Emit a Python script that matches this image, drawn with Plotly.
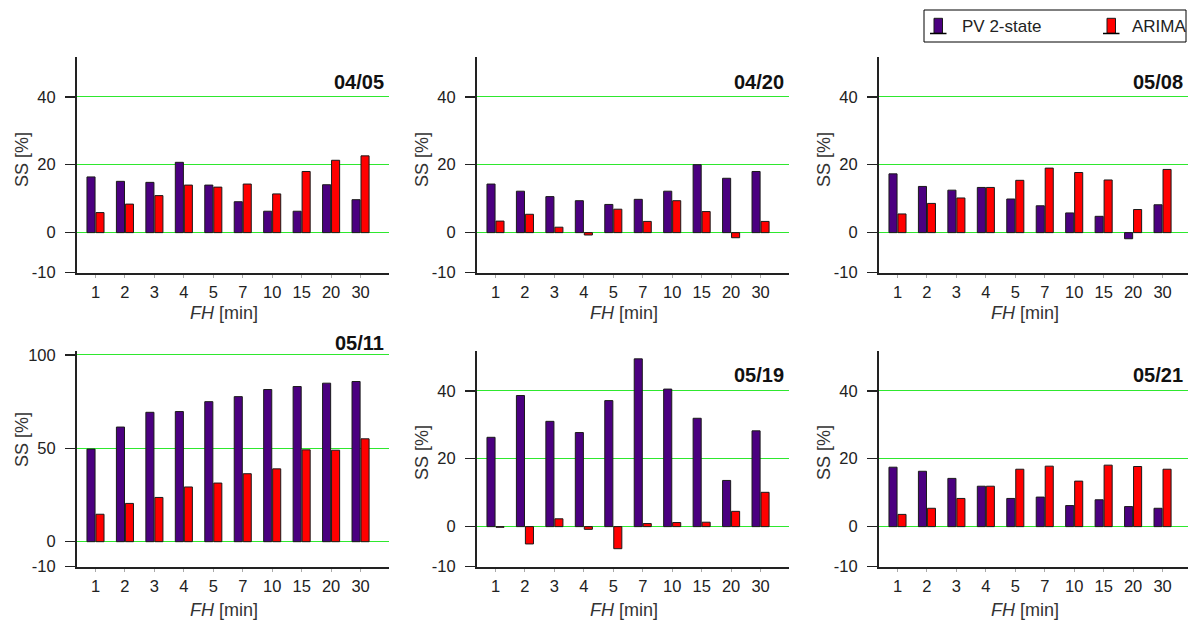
import plotly.graph_objects as go

FH = ["1", "2", "3", "4", "5", "7", "10", "15", "20", "30"]
DAYS = ["04/05", "04/20", "05/08", "05/11", "05/19", "05/21"]
SERIES = ["PV 2-state", "ARIMA"]

PV_0405 = [16.4, 15.1, 14.8, 20.7, 14.0, 9.1, 6.3, 6.3, 14.1, 9.7]
AR_0405 = [5.9, 8.4, 10.9, 14.0, 13.4, 14.3, 11.4, 18.0, 21.3, 22.6]
PV_0420 = [14.3, 12.2, 10.6, 9.4, 8.3, 9.8, 12.2, 20.0, 16.0, 18.0]
AR_0420 = [3.4, 5.4, 1.6, -0.7, 6.9, 3.3, 9.4, 6.2, -1.5, 3.3]
PV_0508 = [17.3, 13.6, 12.5, 13.3, 9.9, 7.9, 5.8, 4.8, -1.8, 8.2]
AR_0508 = [5.5, 8.6, 10.2, 13.3, 15.4, 19.0, 17.7, 15.5, 6.8, 18.6]
PV_0511 = [49.6, 61.4, 69.3, 69.7, 75.0, 77.7, 81.5, 83.1, 84.9, 85.8]
AR_0511 = [14.7, 20.5, 23.7, 29.3, 31.4, 36.4, 39.0, 49.2, 49.0, 55.1]
PV_0519 = [26.3, 38.6, 31.0, 27.7, 37.1, 49.4, 40.5, 31.9, 13.6, 28.2]
AR_0519 = [-0.2, -5.1, 2.3, -0.8, -6.5, 0.9, 1.2, 1.3, 4.5, 10.1]
PV_0521 = [17.5, 16.3, 14.2, 11.9, 8.3, 8.7, 6.2, 7.9, 5.9, 5.4]
AR_0521 = [3.6, 5.4, 8.3, 11.9, 16.9, 17.8, 13.4, 18.1, 17.7, 16.9]

PV = [PV_0405, PV_0420, PV_0508, PV_0511, PV_0519, PV_0521]
AR = [AR_0405, AR_0420, AR_0508, AR_0511, AR_0519, AR_0521]

W, H = 1188, 621
PURPLE = "#4b0080"
RED = "#ff0000"
GREEN = "#2ee82e"
AXC = "#222222"
EDGE = "#1a1a1a"
FONT = "Liberation Sans, Arial, sans-serif"

# panel pixel boxes: (left, right) and (top, bottom)
cols = [(77, 389), (477, 789), (879, 1188)]
rows = [(56.7, 272.7), (350.7, 566.7)]
SPACING = 29.45
LEFT_OFF = 18.5

fig = go.Figure()
for i, day in enumerate(DAYS):
    r, c = divmod(i, 3)
    L, R = cols[c]
    T, B = rows[r]
    n = i + 1
    xa = "x" if n == 1 else f"x{n}"
    ya = "y" if n == 1 else f"y{n}"
    fig.add_trace(go.Bar(x=FH, y=PV[i], name=SERIES[0], marker=dict(color=PURPLE, line=dict(color=EDGE, width=1)),
                         xaxis=xa, yaxis=ya, showlegend=False))
    fig.add_trace(go.Bar(x=FH, y=AR[i], name=SERIES[1], marker=dict(color=RED, line=dict(color=EDGE, width=1)),
                         xaxis=xa, yaxis=ya, showlegend=False))
    xl = -LEFT_OFF / SPACING
    xr = xl + (R - L) / SPACING
    if day == "05/11":
        yr = [-13.4, 102.3]
        tv = [-13.4, 0, 50, 100]
        tt = ["-10", "0", "50", "100"]
    else:
        yr = [-11.8, 51.8]
        tv = [-11.8, 0, 20, 40]
        tt = ["-10", "0", "20", "40"]
    xkey = "xaxis" if n == 1 else f"xaxis{n}"
    ykey = "yaxis" if n == 1 else f"yaxis{n}"
    fig.layout[xkey] = dict(domain=[L / W, R / W], anchor=ya, type="category", categoryorder="array",
                            categoryarray=FH, range=[xl, xr], showline=True, linecolor=AXC, linewidth=2,
                            ticks="outside", ticklen=3, tickcolor="#aaaaaa", tickwidth=1,
                            tickfont=dict(size=16.5, color=AXC, family=FONT), showgrid=False, zeroline=False,
                            fixedrange=True)
    fig.layout[ykey] = dict(domain=[1 - B / H, 1 - T / H], anchor=xa, range=yr, tickvals=tv, ticktext=tt,
                            showline=True, linecolor=AXC, linewidth=2, ticks="outside", ticklen=10,
                            tickcolor=AXC, tickwidth=1.5, ticklabelstandoff=6,
                            tickfont=dict(size=16.5, color=AXC, family=FONT), showgrid=True, gridcolor=GREEN,
                            gridwidth=1, zeroline=False, fixedrange=True)
    dref_x = f"{xa} domain"
    dref_y = f"{ya} domain"
    ty = 1.037 if day == "05/11" else (0.8875 if r == 1 else 0.884)
    fig.add_annotation(text=f"<b>{day}</b>", xref=dref_x, yref=dref_y, x=1 - 3 / (R - L), y=ty,
                       xanchor="right", yanchor="middle", showarrow=False,
                       font=dict(size=20, color="#111111", family=FONT))
    fig.add_annotation(text="<i>FH</i> [min]", xref=dref_x, yref=dref_y, x=(224 - 77) / 312,
                       y=-(40.5 if r == 0 else 43) / 216, xanchor="center", yanchor="middle", showarrow=False,
                       font=dict(size=18, color="#333333", family=FONT))
    sy = 0.587 if day == "05/11" else (0.522 if r == 0 else 0.526)
    fig.add_annotation(text="SS [%]", xref=dref_x, yref=dref_y, x=-55 / (R - L), y=sy, textangle=-90,
                       xanchor="center", yanchor="middle", showarrow=False,
                       font=dict(size=18, color="#333333", family=FONT))

# custom legend (box, bar icons with baseline, labels)
def px(x):
    return x / W

def py(y):
    return 1 - y / H

shapes = [dict(type="rect", xref="paper", yref="paper", x0=px(924), x1=px(1186), y0=py(42), y1=py(10),
               line=dict(color="#000000", width=1), fillcolor="white", layer="above")]
for (bx0, bx1, lx0, lx1, col, tx, label) in [(934, 942.5, 930, 946.5, PURPLE, 960, SERIES[0]),
                                             (1107, 1115.5, 1103, 1119.5, RED, 1130, SERIES[1])]:
    shapes.append(dict(type="rect", xref="paper", yref="paper", x0=px(bx0), x1=px(bx1), y0=py(33.3), y1=py(18.3),
                       line=dict(color=EDGE, width=1), fillcolor=col, layer="above"))
    shapes.append(dict(type="line", xref="paper", yref="paper", x0=px(lx0), x1=px(lx1), y0=py(33.5), y1=py(33.5),
                       line=dict(color="#000000", width=1.5), layer="above"))
    fig.add_annotation(text=label, xref="paper", yref="paper", x=px(tx), y=py(26.5), xanchor="left",
                       yanchor="middle", showarrow=False, font=dict(size=17, color="#222222", family=FONT))

fig.update_layout(
    width=W, height=H, margin=dict(l=0, r=0, t=0, b=0, autoexpand=False),
    paper_bgcolor="white", plot_bgcolor="white",
    barmode="group", bargap=0.39, bargroupgap=0.1,
    font=dict(family=FONT, color=AXC),
    showlegend=False,
    shapes=shapes,
)

fig.write_html("out.html", config={"displayModeBar": False, "staticPlot": True},
               post_script="document.body.style.margin='0';document.body.style.padding='0';"
                           "document.body.style.overflow='hidden';")
